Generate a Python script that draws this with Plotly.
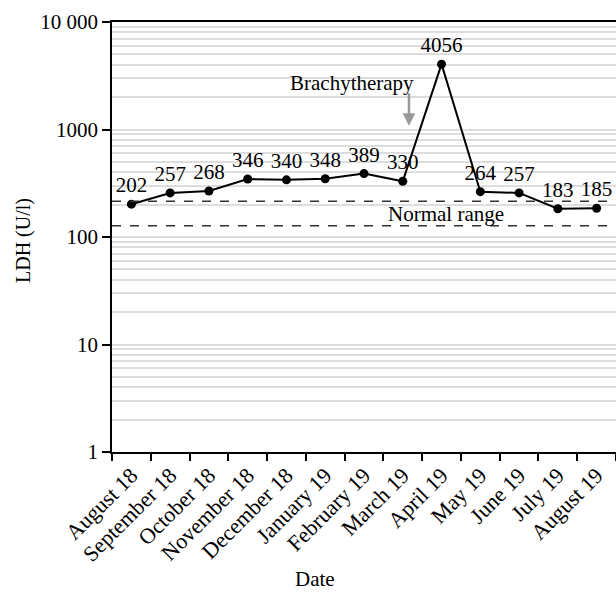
import math
import plotly.graph_objects as go

months = ["August 18", "September 18", "October 18", "November 18", "December 18",
          "January 19", "February 19", "March 19", "April 19", "May 19", "June 19",
          "July 19", "August 19"]
ldh = [202, 257, 268, 346, 340, 348, 389, 330, 4056, 264, 257, 183, 185]
normal_range = [127, 215]
major_ticks = [1, 10, 100, 1000, 10000]
major_text = ["1", "10", "100", "1000", "10 000"]
minor_ticks = [m * d for d in [1, 10, 100, 1000] for m in range(2, 10)]

FONT = "Liberation Serif"
FS = 21
fig = go.Figure()
fig.add_trace(go.Scatter(
    x=months, y=ldh, mode="lines+markers+text",
    text=[str(v) for v in ldh], textposition="top center",
    textfont=dict(family=FONT, size=FS, color="black"),
    line=dict(color="black", width=2),
    marker=dict(color="black", size=9),
    cliponaxis=False, showlegend=False))

for v in normal_range:
    fig.add_shape(type="line", xref="paper", x0=0, x1=1, yref="y", y0=v, y1=v,
                  line=dict(color="#333333", width=1.5, dash="dash"))

fig.add_annotation(x=8.11, y=(math.log10(normal_range[0]) + math.log10(normal_range[1])) / 2,
                   text="Normal range", showarrow=False,
                   font=dict(family=FONT, size=FS, color="black"))
fig.add_annotation(x=7.16, y=math.log10(1083), ax=0, ay=-34, text="",
                   showarrow=True, arrowhead=2, arrowsize=1, arrowwidth=2.5,
                   arrowcolor="#999999", standoff=0)
fig.add_annotation(x=5.68, y=math.log10(2722), text="Brachytherapy", showarrow=False,
                   font=dict(family=FONT, size=FS, color="black"))
fig.add_annotation(xref="paper", yref="paper", x=0.403, y=-0.296, text="Date",
                   xanchor="center", yanchor="middle",
                   showarrow=False, font=dict(family=FONT, size=FS, color="black"))
fig.add_annotation(xref="paper", yref="paper", x=-0.1766, y=0.493, text="LDH (U/l)",
                   xanchor="center", yanchor="middle",
                   textangle=-90, showarrow=False,
                   font=dict(family=FONT, size=FS - 1, color="black"))

fig.update_layout(
    width=616, height=592,
    margin=dict(l=112, r=0, t=22, b=140, autoexpand=False),
    plot_bgcolor="white", paper_bgcolor="white",
    font=dict(family=FONT, size=FS, color="black"),
    xaxis=dict(type="category", range=[-0.5, 12.5], tickson="boundaries",
               ticks="outside", ticklen=7, tickwidth=1.5, tickcolor="black",
               showline=True, linecolor="black", linewidth=1.5, mirror=True,
               showgrid=False, tickangle=-45, automargin=False,
               tickfont=dict(family=FONT, size=22)),
    yaxis=dict(type="log", range=[0, 4], tickvals=major_ticks, ticktext=major_text,
               ticks="outside", ticklen=8, tickwidth=1.5, tickcolor="black",
               showline=True, linecolor="black", linewidth=1.5, automargin=False,
               showgrid=True, gridcolor="#dddddd", gridwidth=1.5,
               tickfont=dict(family=FONT, size=FS),
               minor=dict(tickvals=minor_ticks, showgrid=True, gridcolor="#dddddd",
                          gridwidth=1.5, ticks=""),
               zeroline=False),
)
fig.write_html("out.html", config={"displayModeBar": False},
               post_script="document.body.style.margin='0';document.body.style.overflow='hidden';")
